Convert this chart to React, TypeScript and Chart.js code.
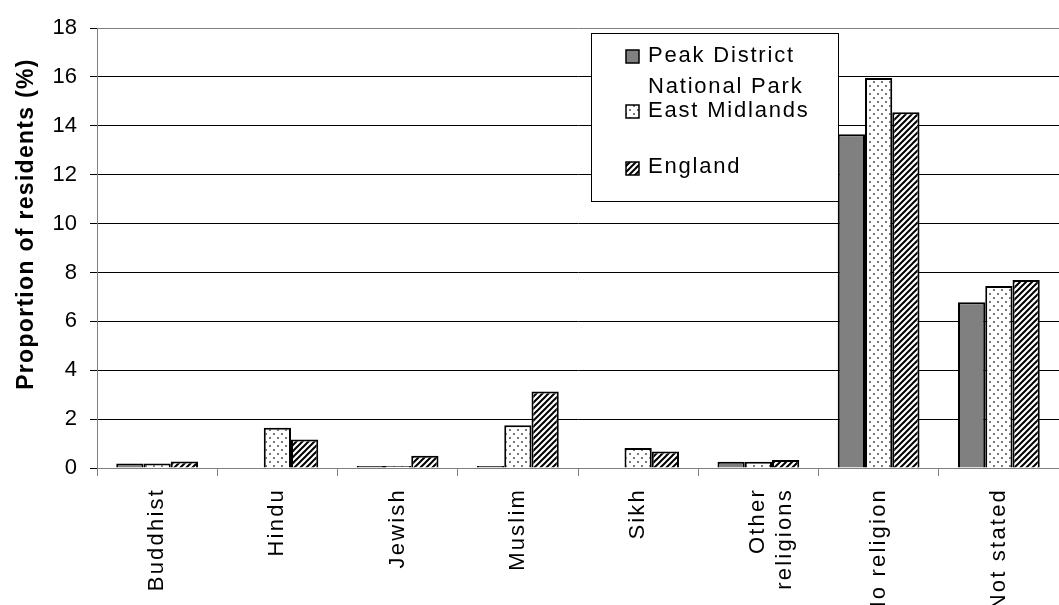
import React, { useEffect, useRef } from "react";
import { Chart, registerables } from "chart.js";

Chart.register(...registerables);

// ---- Data ----
const categories: (string | string[])[] = [
  "Buddhist",
  "Hindu",
  "Jewish",
  "Muslim",
  "Sikh",
  ["Other", "religions"],
  "No religion",
  "Not stated",
];
const peakDistrict = [0.18, 0, 0.08, 0.08, 0, 0.26, 13.65, 6.78];
const eastMidlands = [0.18, 1.65, 0.08, 1.75, 0.82, 0.26, 15.95, 7.45];
const england = [0.27, 1.17, 0.5, 3.13, 0.67, 0.33, 14.55, 7.69];
const seriesNames = ["Peak District National Park", "East Midlands", "England"];
const legendLines = [["Peak District", "National Park"], ["East Midlands"], ["England"]];
const yAxisTitle = "Proportion of residents (%)";
const yMin = 0;
const yMax = 18;
const yStep = 2;

const FONT = "'Liberation Sans', Arial, Helvetica, sans-serif";

function makeDotPattern(): CanvasPattern | string {
  const c = document.createElement("canvas");
  c.width = 8;
  c.height = 8;
  const g = c.getContext("2d");
  if (!g) return "#fff";
  g.fillStyle = "#ffffff";
  g.fillRect(0, 0, 8, 8);
  g.fillStyle = "#7a7a7a";
  g.fillRect(1, 1, 2, 2);
  g.fillRect(5, 5, 2, 2);
  return g.createPattern(c, "repeat") || "#fff";
}

function makeStripePattern(): CanvasPattern | string {
  const s = 6;
  const c = document.createElement("canvas");
  c.width = s;
  c.height = s;
  const g = c.getContext("2d");
  if (!g) return "#000";
  g.fillStyle = "#ffffff";
  g.fillRect(0, 0, s, s);
  g.strokeStyle = "#000000";
  g.lineWidth = 2;
  g.beginPath();
  g.moveTo(0, s);
  g.lineTo(s, 0);
  g.moveTo(-1, 1);
  g.lineTo(1, -1);
  g.moveTo(s - 1, s + 1);
  g.lineTo(s + 1, s - 1);
  g.stroke();
  return g.createPattern(c, "repeat") || "#000";
}

export default function App() {
  const ref = useRef<HTMLCanvasElement | null>(null);

  useEffect(() => {
    const canvas = ref.current;
    if (!canvas) return;
    const dots = makeDotPattern();
    const stripes = makeStripePattern();
    const fills: any[] = ["#808080", dots, stripes];

    const spacingPlugin = {
      id: "spacing",
      beforeDraw(chart: any) {
        chart.ctx.letterSpacing = "2.2px";
      },
      afterDatasetsDraw(chart: any) {
        chart.ctx.letterSpacing = "0px";
      },
    };

    const overlayPlugin = {
      id: "overlay",
      afterDraw(chart: any) {
        const ctx = chart.ctx as CanvasRenderingContext2D;
        // Y axis title
        ctx.save();
        (ctx as any).letterSpacing = "1.3px";
        ctx.translate(33, 224);
        ctx.rotate(-Math.PI / 2);
        ctx.font = `bold 23px ${FONT}`;
        ctx.fillStyle = "#000";
        ctx.textAlign = "center";
        ctx.textBaseline = "alphabetic";
        ctx.fillText(yAxisTitle, 0, 0);
        ctx.restore();

        // Legend box
        ctx.save();
        ctx.fillStyle = "#ffffff";
        ctx.fillRect(591.5, 33.5, 247, 168);
        ctx.strokeStyle = "#000";
        ctx.lineWidth = 1;
        ctx.strokeRect(591.5, 33.5, 247, 168);
        const markerTops = [50, 105, 162];
        const baselines = [62, 117, 173];
        (ctx as any).letterSpacing = "1.8px";
        ctx.font = `22px ${FONT}`;
        ctx.textAlign = "left";
        ctx.textBaseline = "alphabetic";
        for (let i = 0; i < seriesNames.length; i++) {
          ctx.fillStyle = fills[i];
          ctx.fillRect(626, markerTops[i], 13, 13);
          ctx.strokeStyle = "#000";
          ctx.lineWidth = 1.5;
          ctx.strokeRect(626, markerTops[i], 13, 13);
          ctx.fillStyle = "#000";
          legendLines[i].forEach((line, j) => {
            ctx.fillText(line, 648, baselines[i] + j * 31);
          });
        }
        ctx.restore();
      },
    };

    const chart = new Chart(canvas, {
      type: "bar",
      data: {
        labels: categories as any,
        datasets: [peakDistrict, eastMidlands, england].map((d, i) => ({
          label: seriesNames[i],
          data: d,
          backgroundColor: fills[i],
          borderColor: "#000000",
          borderWidth: 2,
          categoryPercentage: 0.68,
          barPercentage: 1.0,
        })),
      },
      options: {
        responsive: false,
        devicePixelRatio: 1,
        animation: false,
        layout: { padding: { top: 28, right: 0, left: 0, bottom: 0 } },
        plugins: {
          legend: { display: false },
          tooltip: { enabled: false },
        },
        scales: {
          x: {
            offset: true,
            grid: {
              offset: true,
              drawOnChartArea: false,
              drawTicks: true,
              tickLength: 8,
              color: "#808080",
            },
            border: { color: "#808080", width: 1 },
            ticks: {
              autoSkip: false,
              maxRotation: 90,
              minRotation: 90,
              padding: 12,
              color: "#000",
              font: { family: FONT, size: 22 },
            },
            afterFit(scale: any) {
              scale.height = 137;
            },
          },
          y: {
            min: yMin,
            max: yMax,
            grid: {
              color: (c: any) => (c.tick && c.tick.value === yMax ? "#808080" : "#000000"),
              tickColor: "#000000",
              tickLength: 7,
              lineWidth: 1,
            },
            border: { color: "#808080", width: 1 },
            ticks: {
              stepSize: yStep,
              padding: 13,
              color: "#000",
              z: 1,
              font: { family: FONT, size: 22 },
            },
            afterFit(scale: any) {
              scale.width = 97;
            },
          },
        },
      },
      plugins: [spacingPlugin, overlayPlugin],
    });

    return () => chart.destroy();
  }, []);

  return (
    <div style={{ position: "absolute", left: 0, top: 0, width: 1059, height: 605, background: "#fff" }}>
      <canvas ref={ref} width={1059} height={605} style={{ display: "block" }} />
    </div>
  );
}
